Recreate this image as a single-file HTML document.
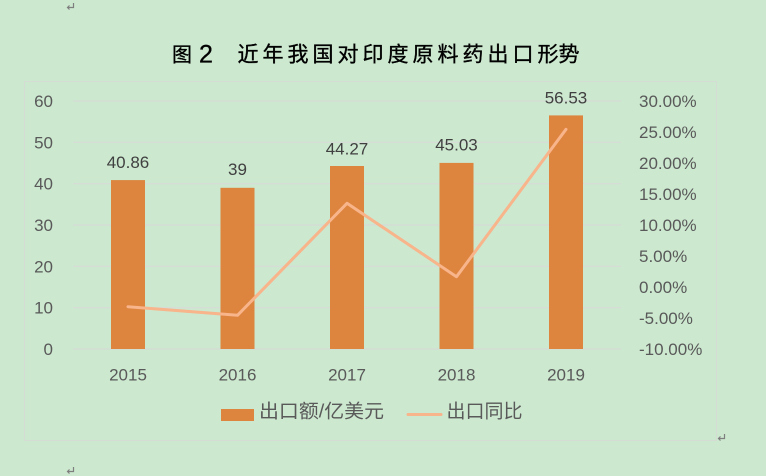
<!DOCTYPE html>
<html>
<head>
<meta charset="utf-8">
<style>
  html,body{margin:0;padding:0;background:#CCE8CF;}
  svg{display:block;}
</style>
</head>
<body>
<svg width="766" height="476" viewBox="0 0 766 476" xmlns="http://www.w3.org/2000/svg">
  <rect x="0" y="0" width="766" height="476" fill="#CCE8CF"/>

  <!-- paragraph marks -->
  <g fill="none" stroke="#7f7f7f" stroke-width="1.2">
    <polyline points="73.5,3 73.5,7.5 67.5,7.5"/>
    <polyline points="69.5,5.5 67.5,7.5 69.5,9.5"/>
    <polyline points="568.5,52 568.5,56.5 562.5,56.5"/>
    <polyline points="564.5,54.5 562.5,56.5 564.5,58.5"/>
    <polyline points="724.5,434 724.5,438.5 718.5,438.5"/>
    <polyline points="720.5,436.5 718.5,438.5 720.5,440.5"/>
    <polyline points="73.5,467 73.5,471.5 67.5,471.5"/>
    <polyline points="69.5,469.5 67.5,471.5 69.5,473.5"/>
  </g>

  <!-- title -->
  <g font-family="'Liberation Sans','Noto Sans CJK SC',sans-serif" font-size="21" fill="#000" stroke="#000" stroke-width="0.35">
    <text x="172" y="61.5" font-size="20">图</text>
    <text x="199" y="62.5" font-family="'Liberation Sans',sans-serif" font-size="25">2</text>
    <text y="61.5" x="237.5 262.5 287.5 312.5 337.5 362.5 387.5 412.5 437.5 462.5 487.5 512.5 537.5">近年我国对印度原料药出口形势</text>
  </g>

  <!-- chart border -->
  <rect x="24.5" y="81.5" width="692" height="359" fill="none" stroke="#d4dcd4" stroke-width="1"/>

  <!-- gridlines -->
  <g stroke="#d9d9d9" stroke-width="1">
    <line x1="73" x2="621" y1="101" y2="101"/>
    <line x1="73" x2="621" y1="142.3" y2="142.3"/>
    <line x1="73" x2="621" y1="183.7" y2="183.7"/>
    <line x1="73" x2="621" y1="225" y2="225"/>
    <line x1="73" x2="621" y1="266.3" y2="266.3"/>
    <line x1="73" x2="621" y1="307.7" y2="307.7"/>
    <line x1="73" x2="621" y1="349" y2="349"/>
  </g>

  <!-- bars -->
  <g fill="#DD843E">
    <rect x="111" y="180.1" width="34" height="168.9"/>
    <rect x="220.5" y="187.8" width="34" height="161.2"/>
    <rect x="330" y="166" width="34" height="183"/>
    <rect x="439.5" y="162.9" width="34" height="186.1"/>
    <rect x="549" y="115.4" width="34" height="233.6"/>
  </g>

  <!-- line -->
  <polyline points="128,306.7 237.5,315.3 347,203.3 456.5,276.7 566,129.3" fill="none" stroke="#F8B48A" stroke-width="3" stroke-linejoin="round" stroke-linecap="round"/>

  <!-- left axis labels -->
  <g font-family="'Liberation Sans',sans-serif" font-size="17" fill="#595959" text-anchor="end">
    <text x="53" y="107">60</text>
    <text x="53" y="148.3">50</text>
    <text x="53" y="189.7">40</text>
    <text x="53" y="231">30</text>
    <text x="53" y="272.3">20</text>
    <text x="53" y="313.7">10</text>
    <text x="53" y="355">0</text>
  </g>

  <!-- right axis labels -->
  <g font-family="'Liberation Sans',sans-serif" font-size="17" fill="#595959">
    <text x="639" y="107">30.00%</text>
    <text x="639" y="138">25.00%</text>
    <text x="639" y="169">20.00%</text>
    <text x="639" y="200">15.00%</text>
    <text x="639" y="231">10.00%</text>
    <text x="639" y="262">5.00%</text>
    <text x="639" y="293">0.00%</text>
    <text x="639" y="324">-5.00%</text>
    <text x="639" y="355">-10.00%</text>
  </g>

  <!-- x axis labels -->
  <g font-family="'Liberation Sans',sans-serif" font-size="17" fill="#595959" text-anchor="middle">
    <text x="128" y="380.5">2015</text>
    <text x="237.5" y="380.5">2016</text>
    <text x="347" y="380.5">2017</text>
    <text x="456.5" y="380.5">2018</text>
    <text x="566" y="380.5">2019</text>
  </g>

  <!-- value labels -->
  <g font-family="'Liberation Sans',sans-serif" font-size="17" fill="#404040" text-anchor="middle">
    <text x="128" y="168">40.86</text>
    <text x="237.5" y="175">39</text>
    <text x="347" y="154.3">44.27</text>
    <text x="456.5" y="150.7">45.03</text>
    <text x="566" y="103.3">56.53</text>
  </g>

  <!-- legend -->
  <rect x="221" y="409" width="33" height="12" fill="#DD843E"/>
  <text x="259" y="417.5" font-family="'Liberation Sans','Noto Sans CJK SC',sans-serif" font-size="19" fill="#595959" textLength="125" lengthAdjust="spacingAndGlyphs">出口额/亿美元</text>
  <line x1="408" x2="441" y1="414.5" y2="414.5" stroke="#F8B48A" stroke-width="3" stroke-linecap="round"/>
  <text x="446.5" y="417.5" font-family="'Liberation Sans','Noto Sans CJK SC',sans-serif" font-size="19" fill="#595959" textLength="76" lengthAdjust="spacingAndGlyphs">出口同比</text>
</svg>
</body>
</html>
